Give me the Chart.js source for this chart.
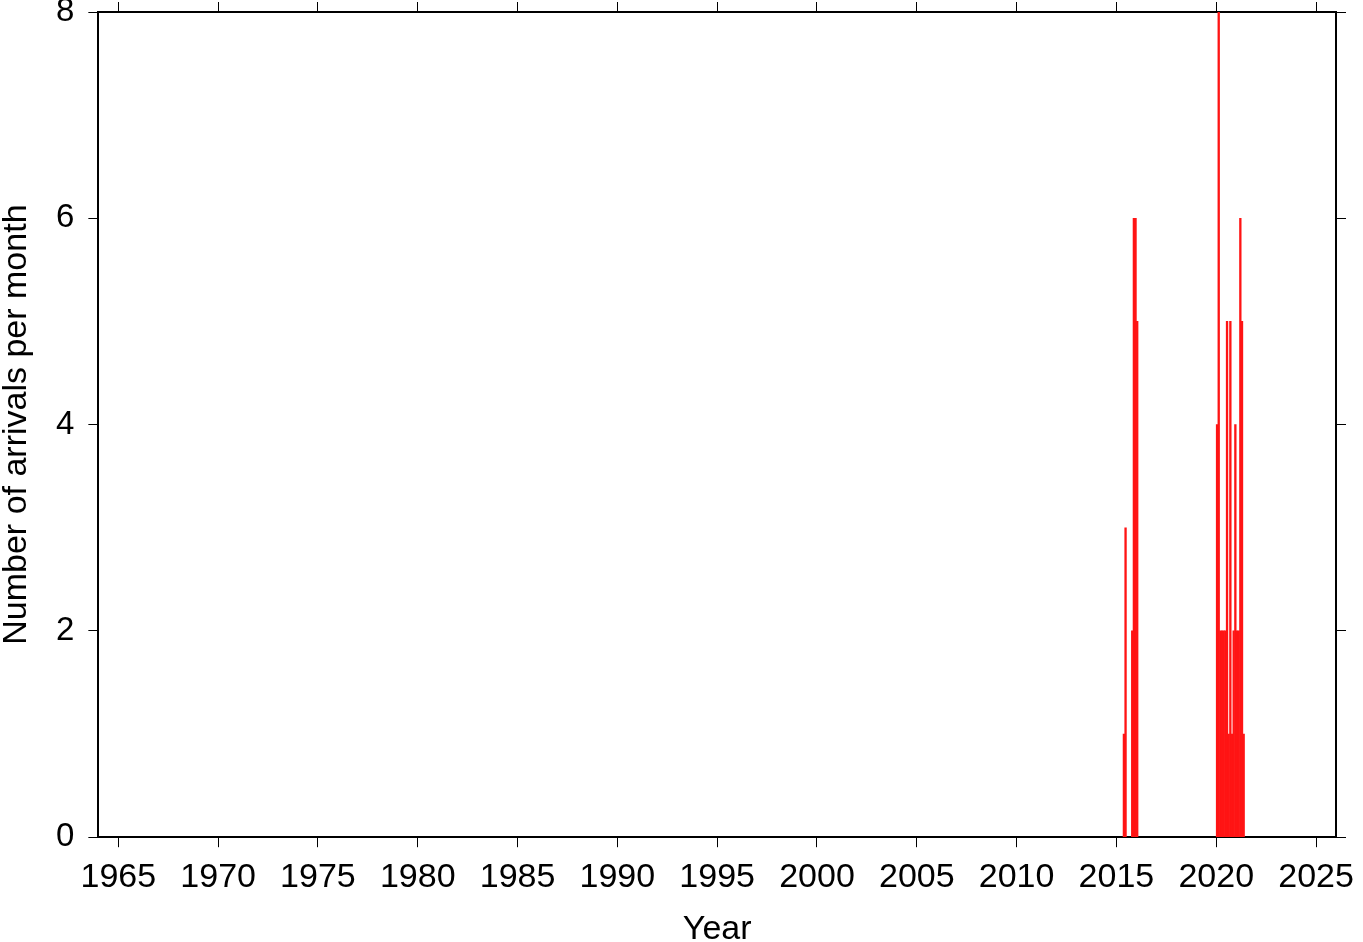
<!DOCTYPE html>
<html>
<head>
<meta charset="utf-8">
<script src="https://cdn.jsdelivr.net/npm/chart.js@4/dist/chart.umd.min.js"></script>
<style>
  html, body { margin: 0; padding: 0; background: #ffffff; }
  canvas { display: block; }
</style>
</head>
<body>
<canvas id="c" width="1363" height="942"></canvas>
<script>
// ---- data ----
const months = ['2015-05','2015-06','2015-10','2015-11','2015-12','2016-01',
  '2020-01','2020-02','2020-03','2020-04','2020-05','2020-06','2020-07','2020-08',
  '2020-09','2020-10','2020-11','2020-12','2021-01','2021-02','2021-03','2021-04','2021-05'];
const counts = [1,3,2,6,6,5,
  4,8,2,2,2,2,5,1,
  5,1,2,4,2,2,6,5,1];
const xTicks = [1965,1970,1975,1980,1985,1990,1995,2000,2005,2010,2015,2020,2025];
const yTicks = [0,2,4,6,8];
const xRange = [1964, 2026];
const yRange = [0, 8];

// month -> decimal year (centre of month)
const points = months.map((m, i) => {
  const [y, mo] = m.split('-').map(Number);
  return { x: y + (mo - 1) / 12 + 1 / 24, y: counts[i] };
});

const FONT = '"Liberation Sans", Arial, Helvetica, sans-serif';
const fixTicks = (list) => (scale) => { scale.ticks = list.map(v => ({ value: v })); };
const noOverhangV = (scale) => { scale.paddingTop = 0; scale.paddingBottom = 0; };
const noOverhangH = (scale) => { scale.paddingLeft = 0; scale.paddingRight = 0; };

new Chart(document.getElementById('c'), {
  type: 'bar',
  data: {
    datasets: [{
      data: points,
      backgroundColor: '#ff1414',
      borderWidth: 0,
      barPercentage: 1,
      categoryPercentage: 1,
      xAxisID: 'x',
      yAxisID: 'y'
    }]
  },
  options: {
    responsive: false,
    animation: false,
    devicePixelRatio: 1,
    layout: { padding: { top: 2, right: 17, left: 0, bottom: 0 } },
    plugins: { legend: { display: false }, tooltip: { enabled: false } },
    scales: {
      x: {
        type: 'linear',
        position: 'bottom',
        offset: false,
        min: xRange[0], max: xRange[1],
        afterBuildTicks: fixTicks(xTicks),
        afterFit: noOverhangH,
        grid: { offset: false, drawOnChartArea: false, tickLength: 10, color: '#000', lineWidth: 1 },
        border: { display: true, color: '#000', width: 2 },
        ticks: { color: '#000', font: { family: FONT, size: 34, lineHeight: 1.0 }, padding: 13, maxRotation: 0,
                 callback: v => String(v) },
        title: { display: true, text: 'Year', color: '#000',
                 font: { family: FONT, size: 34, lineHeight: 0.7 }, padding: { top: 11, bottom: 0 } }
      },
      x2: {
        type: 'linear',
        position: 'top',
        offset: false,
        min: xRange[0], max: xRange[1],
        afterBuildTicks: fixTicks(xTicks),
        grid: { offset: false, drawOnChartArea: false, tickLength: 10, color: '#000', lineWidth: 1 },
        border: { display: true, color: '#000', width: 2 },
        ticks: { display: false }
      },
      y: {
        type: 'linear',
        position: 'left',
        min: yRange[0], max: yRange[1],
        afterBuildTicks: fixTicks(yTicks),
        afterFit: noOverhangV,
        grid: { drawOnChartArea: false, tickLength: 10, color: '#000', lineWidth: 1 },
        border: { display: true, color: '#000', width: 2 },
        ticks: { color: '#000', font: { family: FONT, size: 33 }, padding: 14,
                 callback: v => String(v) },
        title: { display: true, text: 'Number of arrivals per month', color: '#000',
                 font: { family: FONT, size: 34, lineHeight: 1.0 }, padding: { top: 0, bottom: 8 } }
      },
      y2: {
        type: 'linear',
        position: 'right',
        min: yRange[0], max: yRange[1],
        afterBuildTicks: fixTicks(yTicks),
        grid: { drawOnChartArea: false, tickLength: 10, color: '#000', lineWidth: 1 },
        border: { display: true, color: '#000', width: 2 },
        ticks: { display: false }
      }
    }
  }
});
</script>
</body>
</html>
